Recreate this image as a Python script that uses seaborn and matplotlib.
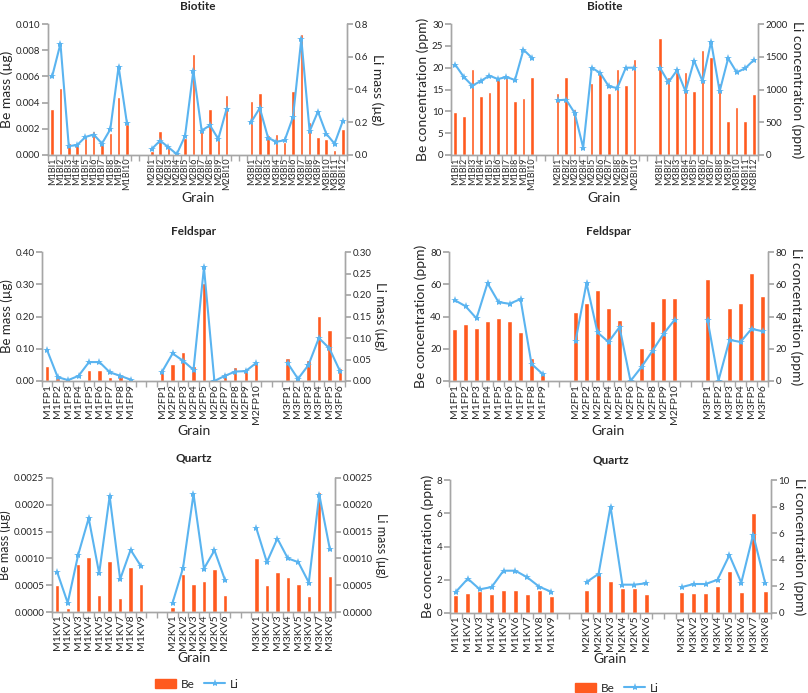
import matplotlib
matplotlib.use("Agg")
import numpy as np
import pandas as pd
import matplotlib.pyplot as plt
import seaborn as sns
from matplotlib.lines import Line2D
from matplotlib.patches import Patch
from matplotlib.ticker import FormatStrFormatter, MultipleLocator

sns.set_theme(style="white")
plt.rcParams['font.family'] = ['Lato', 'DejaVu Sans']

BE_COLOR = "#FF5A1F"
LI_COLOR = "#5AB4F0"
AX_COLOR = "#A6A6A6"

# === Biotite ===
bio_m1 = [f"M1BI{i}" for i in range(1, 11)]
bio_m2 = [f"M2BI{i}" for i in range(1, 11)]
bio_m3 = [f"M3BI{i}" for i in range(1, 13)]

bio_be_mass_m1 = [0.0035, 0.0051, 0.0009, 0.0008, 0.0013, 0.0018, 0.0009, 0.0017, 0.0044, 0.0024]
bio_be_mass_m2 = [0.0003, 0.0018, 0.0007, 0.0, 0.0013, 0.0077, 0.0019, 0.0035, 0.0012, 0.0046]
bio_be_mass_m3 = [0.0041, 0.0047, 0.0015, 0.0016, 0.0010, 0.0049, 0.0092, 0.0025, 0.0014, 0.0012, 0.0004, 0.0020]
bio_li_mass_m1 = [0.48, 0.68, 0.055, 0.06, 0.11, 0.125, 0.07, 0.157, 0.54, 0.195]
bio_li_mass_m2 = [0.037, 0.088, 0.047, 0.005, 0.116, 0.515, 0.149, 0.181, 0.098, 0.281]
bio_li_mass_m3 = [0.204, 0.287, 0.104, 0.081, 0.09, 0.232, 0.709, 0.145, 0.265, 0.13, 0.069, 0.208]

bio_be_conc_m1 = [9.8, 9.0, 19.7, 13.4, 14.5, 17.3, 17.8, 12.4, 13.0, 17.8]
bio_be_conc_m2 = [14.2, 17.8, 10.5, 0.0, 16.6, 18.7, 14.1, 19.8, 16.0, 22.0]
bio_be_conc_m3 = [26.9, 17.9, 18.9, 19.0, 14.7, 24.0, 22.4, 16.6, 7.9, 11.0, 7.9, 14.0]
bio_li_conc_m1 = [1379, 1191, 1058, 1130, 1211, 1160, 1191, 1145, 1608, 1481]
bio_li_conc_m2 = [835, 845, 641, 112, 1333, 1252, 1048, 1023, 1333, 1333]
bio_li_conc_m3 = [1333, 1109, 1293, 972, 1440, 1125, 1730, 972, 1476, 1262, 1323, 1450]

# === Feldspar ===
fel_m1 = [f"M1FP{i}" for i in range(1, 10)]
fel_m2 = [f"M2FP{i}" for i in range(1, 11)]
fel_m3 = [f"M3FP{i}" for i in range(1, 7)]

fel_be_mass_m1 = [0.045, 0.008, 0.001, 0.004, 0.035, 0.033, 0.013, 0.016, 0.002]
fel_be_mass_m2 = [0.036, 0.052, 0.089, 0.045, 0.304, 0.0, 0.026, 0.044, 0.040, 0.055]
fel_be_mass_m3 = [0.070, 0.012, 0.065, 0.201, 0.157, 0.039]
fel_li_mass_m1 = [0.071, 0.009, 0.002, 0.012, 0.044, 0.044, 0.020, 0.012, 0.003]
fel_li_mass_m2 = [0.022, 0.064, 0.047, 0.026, 0.264, 0.0, 0.012, 0.022, 0.023, 0.042]
fel_li_mass_m3 = [0.042, 0.005, 0.037, 0.100, 0.076, 0.024]

fel_be_conc_m1 = [32.1, 35.4, 33.0, 37.1, 38.8, 37.1, 30.5, 14.1, 5.6]
fel_be_conc_m2 = [43.1, 48.5, 56.6, 45.2, 37.9, 0.4, 20.5, 37.5, 51.2, 51.2]
fel_be_conc_m3 = [63.4, 0.0, 45.2, 48.5, 66.7, 52.6]
fel_li_conc_m1 = [50.2, 46.4, 38.8, 60.7, 48.9, 47.9, 50.8, 10.6, 4.4]
fel_li_conc_m2 = [24.7, 60.7, 30.1, 24.2, 33.4, 0.0, 8.7, 18.7, 29.2, 37.9]
fel_li_conc_m3 = [38.1, 0.3, 25.5, 24.2, 32.3, 30.9]

# === Quartz ===
qtz_m1 = [f"M1KV{i}" for i in range(1, 10)]
qtz_m2 = [f"M2KV{i}" for i in range(1, 7)]
qtz_m3 = [f"M3KV{i}" for i in range(1, 9)]

qtz_be_mass_m1 = [0.00051, 0.000075, 0.00090, 0.00103, 0.00032, 0.00095, 0.00027, 0.00084, 0.00053]
qtz_be_mass_m2 = [0.00009, 0.00070, 0.00053, 0.00057, 0.00080, 0.00032]
qtz_be_mass_m3 = [0.00100, 0.00051, 0.00075, 0.00065, 0.00053, 0.00030, 0.00223, 0.00067]
qtz_li_mass_m1 = [0.00074, 0.00017, 0.00107, 0.00175, 0.00072, 0.00216, 0.00061, 0.00116, 0.00085]
qtz_li_mass_m2 = [0.00017, 0.00082, 0.00220, 0.00081, 0.00115, 0.00060]
qtz_li_mass_m3 = [0.00156, 0.00093, 0.00137, 0.00100, 0.00093, 0.00055, 0.00219, 0.00118]

qtz_be_conc_m1 = [1.08, 1.2, 1.34, 1.12, 1.36, 1.36, 1.16, 1.4, 1.0]
qtz_be_conc_m2 = [1.36, 2.38, 1.92, 1.48, 1.5, 1.14]
qtz_be_conc_m3 = [1.24, 1.2, 1.2, 1.6, 2.5, 1.26, 6.0, 1.32]
qtz_li_conc_m1 = [1.6, 2.58, 1.78, 1.95, 3.18, 3.18, 2.68, 1.98, 1.6]
qtz_li_conc_m2 = [2.33, 2.95, 8.0, 2.13, 2.13, 2.23]
qtz_li_conc_m3 = [1.95, 2.18, 2.18, 2.5, 4.35, 2.28, 5.9, 2.28]

fig = plt.figure(figsize=(8.08, 6.93), dpi=100)


def px_rect(x0, y0, x1, y1):
    return [x0 / 808, 1 - y1 / 693, (x1 - x0) / 808, (y1 - y0) / 693]


def panel(rect, title, groups, be, li, be_max, be_step, be_fmt, li_max, li_step, li_fmt,
          be_label, li_label, title_pad=10, label_size=10, xtick_size=7.5):
    # category order with two empty slots between groups
    order = []
    for gi, labs in enumerate(groups):
        if gi > 0:
            order += [" " * (2 * gi - 1), " " * (2 * gi)]
        order += labs
    df = pd.DataFrame({"label": sum(groups, []), "Be": sum(be, [])})

    ax = fig.add_axes(rect)
    sns.barplot(data=df, x="label", y="Be", order=order, color=BE_COLOR,
                saturation=1, width=0.42, ax=ax)
    ax2 = ax.twinx()
    for labs, vals in zip(groups, li):
        pos = [order.index(l) for l in labs]
        sns.lineplot(x=pos, y=vals, ax=ax2, color=LI_COLOR, marker="*",
                     markersize=6, markeredgewidth=0, linewidth=1.5)

    n = len(order)
    ax.set_xlim(-0.5, n - 0.5)
    ax.set_ylim(0, be_max)
    ax2.set_ylim(0, li_max)
    ax.yaxis.set_major_locator(MultipleLocator(be_step))
    ax2.yaxis.set_major_locator(MultipleLocator(li_step))
    ax.yaxis.set_major_formatter(FormatStrFormatter(be_fmt))
    ax2.yaxis.set_major_formatter(FormatStrFormatter(li_fmt))

    ax.set_xticks(range(n))
    ax.set_xticklabels(order, rotation=90, fontsize=xtick_size)
    ax.set_xticks(np.arange(-0.5, n, 1), minor=True)
    ax.tick_params(axis="x", which="major", length=0, pad=2)
    ax.tick_params(axis="x", which="minor", bottom=True, length=4, color=AX_COLOR)
    ax.tick_params(axis="y", left=True, length=4, color=AX_COLOR, labelsize=7, pad=1.5)
    ax2.tick_params(axis="y", right=True, length=4, color=AX_COLOR, labelsize=7, pad=1.5)

    for a in (ax, ax2):
        a.spines["top"].set_visible(False)
        for s in ("left", "right", "bottom"):
            a.spines[s].set_color(AX_COLOR)
            a.spines[s].set_linewidth(1)
    ax.set_xlabel("Grain", fontsize=10, labelpad=1)
    ax.set_ylabel(be_label, fontsize=label_size, labelpad=2)
    ax2.set_ylabel(li_label, fontsize=label_size, rotation=270, labelpad=11)
    ax.set_title(title, fontsize=8.5, fontweight="bold", pad=title_pad)
    ax.grid(False)
    ax2.grid(False)
    return ax


bio_groups = [bio_m1, bio_m2, bio_m3]
fel_groups = [fel_m1, fel_m2, fel_m3]
qtz_groups = [qtz_m1, qtz_m2, qtz_m3]

panel(px_rect(48, 24, 347, 155), "Biotite", bio_groups,
      [bio_be_mass_m1, bio_be_mass_m2, bio_be_mass_m3],
      [bio_li_mass_m1, bio_li_mass_m2, bio_li_mass_m3],
      0.010, 0.002, "%.3f", 0.8, 0.2, "%.1f", "Be mass (µg)", "Li mass (µg)", xtick_size=6.5)
panel(px_rect(451, 24, 758, 155), "Biotite", bio_groups,
      [bio_be_conc_m1, bio_be_conc_m2, bio_be_conc_m3],
      [bio_li_conc_m1, bio_li_conc_m2, bio_li_conc_m3],
      30, 5, "%d", 2000, 500, "%d", "Be concentration (ppm)", "Li concentration (ppm)",
      xtick_size=6.5)
panel(px_rect(42, 252, 345, 381), "Feldspar", fel_groups,
      [fel_be_mass_m1, fel_be_mass_m2, fel_be_mass_m3],
      [fel_li_mass_m1, fel_li_mass_m2, fel_li_mass_m3],
      0.40, 0.10, "%.2f", 0.30, 0.05, "%.2f", "Be mass (µg)", "Li mass (µg)",
      title_pad=12, label_size=9.5)
panel(px_rect(449, 252, 768, 381), "Feldspar", fel_groups,
      [fel_be_conc_m1, fel_be_conc_m2, fel_be_conc_m3],
      [fel_li_conc_m1, fel_li_conc_m2, fel_li_conc_m3],
      80, 20, "%d", 80, 20, "%d", "Be concentration (ppm)", "Li concentration (ppm)", title_pad=12)
panel(px_rect(52, 478, 335, 612), "Quartz", qtz_groups,
      [qtz_be_mass_m1, qtz_be_mass_m2, qtz_be_mass_m3],
      [qtz_li_mass_m1, qtz_li_mass_m2, qtz_li_mass_m3],
      0.0025, 0.0005, "%.4f", 0.0025, 0.0005, "%.4f", "Be mass (µg)", "Li mass (µg)",
      title_pad=12, label_size=9)
panel(px_rect(450, 480, 771, 613), "Quartz", qtz_groups,
      [qtz_be_conc_m1, qtz_be_conc_m2, qtz_be_conc_m3],
      [qtz_li_conc_m1, qtz_li_conc_m2, qtz_li_conc_m3],
      8, 2, "%d", 10, 2, "%d", "Be concentration (ppm)", "Li concentration (ppm)", title_pad=12)

handles = [Patch(color=BE_COLOR, label="Be"),
           Line2D([], [], color=LI_COLOR, marker="*", markersize=6, markeredgewidth=0,
                  linewidth=1.5, label="Li")]
for cx, cy in ((197 / 808, 1 - 684 / 693), (617 / 808, 1 - 688 / 693)):
    fig.legend(handles=handles, loc="center", bbox_to_anchor=(cx, cy), ncol=2,
               frameon=False, fontsize=8.5, handlelength=1.8, handleheight=0.8,
               columnspacing=0.8, handletextpad=0.4)

fig.savefig("out.png", dpi=100)
